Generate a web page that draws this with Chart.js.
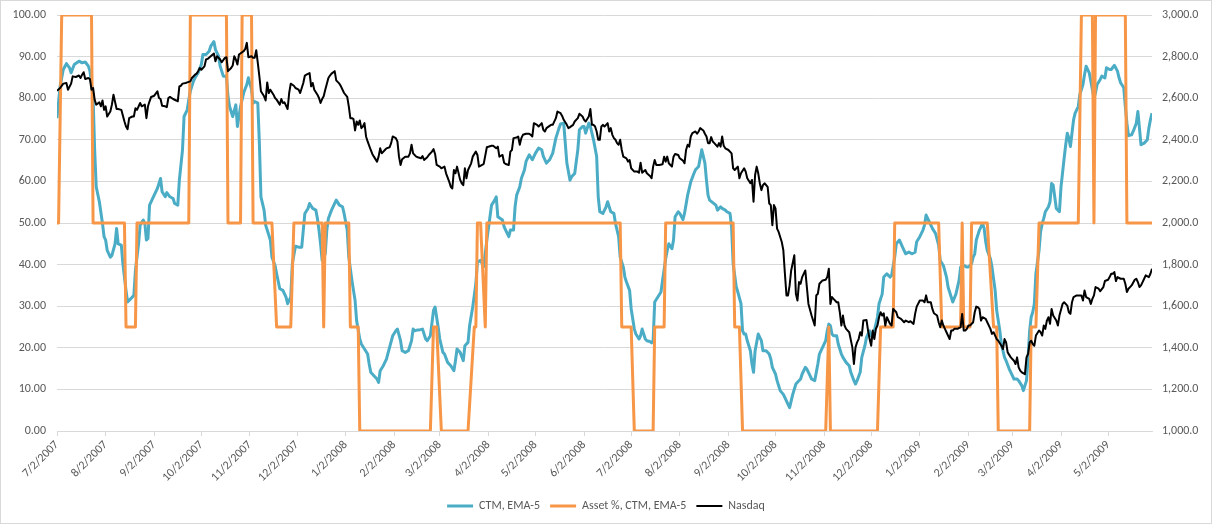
<!DOCTYPE html>
<html>
<head>
<meta charset="utf-8">
<script src="https://cdn.jsdelivr.net/npm/chart.js@4.4.1/dist/chart.umd.min.js"></script>
<style>
  body { margin: 0; background: #fff; }
  #wrap { width: 1210px; height: 522px; border: 1px solid #d9d9d9; }
</style>
</head>
<body>
<div id="wrap"><canvas id="chart" width="1210" height="522"></canvas></div>
<script>
// x values are calendar days counted from 7/2/2007
const startDate = '7/2/2007';
const lastDay = 698;

const tickLabels = ['7/2/2007', '8/2/2007', '9/2/2007', '10/2/2007', '11/2/2007', '12/2/2007',
  '1/2/2008', '2/2/2008', '3/2/2008', '4/2/2008', '5/2/2008', '6/2/2008', '7/2/2008', '8/2/2008',
  '9/2/2008', '10/2/2008', '11/2/2008', '12/2/2008', '1/2/2009', '2/2/2009', '3/2/2009', '4/2/2009',
  '5/2/2009'];

const seriesNames = ['CTM, EMA-5', 'Asset %, CTM, EMA-5', 'Nasdaq'];

const ctmDays = [
  0, 2, 4, 6, 8, 9, 11, 14, 16, 18,
  20, 21, 23, 24, 25, 27, 29, 30, 31, 32,
  34, 35, 37, 38, 39, 41, 42, 44, 45, 47,
  49, 50, 52, 53, 55, 56, 57, 58, 59, 61,
  64, 66, 67, 69, 70, 72, 74, 75, 77, 78,
  80, 81, 83, 84, 85, 87, 88, 90, 92, 93,
  95, 97, 98, 100, 101, 103, 104, 106, 108, 109,
  110, 112, 114, 115, 117, 119, 121, 122, 124, 125,
  126, 128, 129, 130, 132, 133, 135, 136, 137, 139,
  140, 142, 144, 146, 147, 149, 150, 152, 154, 156,
  157, 158, 160, 161, 163, 165, 166, 167, 168, 169,
  171, 172, 173, 175, 177, 178, 180, 182, 183, 185,
  186, 188, 190, 191, 193, 194, 196, 198, 199, 200,
  202, 204, 205, 206, 208, 210, 212, 214, 216, 217,
  219, 220, 222, 224, 226, 227, 228, 230, 231, 233,
  235, 236, 238, 240, 241, 243, 244, 246, 247, 249,
  251, 253, 254, 255, 257, 259, 260, 262, 263, 265,
  267, 268, 270, 272, 274, 276, 277, 279, 280, 281,
  284, 285, 286, 288, 289, 291, 292, 293, 295, 296,
  298, 299, 301, 303, 305, 307, 309, 310, 312, 314,
  316, 318, 320, 321, 323, 324, 325, 327, 328, 330,
  332, 333, 335, 336, 337, 339, 340, 342, 344, 345,
  346, 348, 350, 351, 353, 355, 356, 358, 359, 361,
  362, 363, 365, 366, 368, 369, 371, 372, 373, 375,
  376, 378, 379, 380, 381, 383, 385, 386, 388, 389,
  390, 392, 393, 394, 396, 397, 399, 400, 402, 403,
  404, 406, 407, 409, 410, 411, 412, 413, 414, 415,
  416, 418, 420, 421, 423, 424, 426, 427, 429, 430,
  431, 433, 434, 436, 437, 438, 439, 440, 442, 443,
  444, 445, 447, 448, 449, 450, 452, 454, 455, 456,
  458, 459, 461, 463, 464, 466, 467, 469, 471, 472,
  474, 475, 477, 478, 480, 481, 483, 485, 486, 488,
  490, 491, 492, 493, 494, 495, 497, 498, 500, 501,
  503, 505, 506, 508, 509, 510, 512, 513, 515, 516,
  518, 519, 521, 523, 524, 526, 527, 529, 531, 532,
  534, 535, 537, 539, 541, 543, 545, 547, 548, 550,
  552, 553, 554, 556, 558, 560, 562, 563, 565, 567,
  568, 570, 571, 573, 575, 576, 578, 580, 581, 583,
  584, 585, 586, 588, 590, 591, 592, 593, 595, 596,
  598, 599, 601, 602, 604, 605, 607, 609, 610, 612,
  613, 615, 616, 618, 619, 620, 621, 622, 623, 624,
  626, 627, 628, 629, 630, 632, 633, 634, 635, 636,
  637, 639, 640, 642, 643, 644, 645, 646, 647, 648,
  649, 651, 652, 654, 655, 656, 658, 659, 661, 662,
  663, 665, 666, 668, 669, 671, 672, 674, 676, 677,
  678, 680, 681, 682, 683, 685, 686, 688, 689, 690,
  691, 693, 694, 695, 696, 697, 698
];
const ctmValues = [
  75.2, 82.9, 86.9, 88.3, 87.3, 86.1, 88.1, 88.9, 88.5, 88.7,
  87.7, 86.5, 80.4, 67.6, 58.7, 55.1, 49.9, 46.7, 45.9, 43.4,
  41.8, 42.2, 45, 48.7, 45, 44.7, 40.2, 33.8, 31, 31.8,
  32.6, 38.6, 45, 49.5, 50.7, 49.9, 45.9, 46.3, 54.3, 55.9,
  58.3, 60.7, 57.5, 56.3, 57.3, 56.3, 55.9, 54.7, 54.3, 60.3,
  67.6, 75.6, 77.2, 79.6, 81.7, 84.1, 84.9, 86.1, 88.1, 90.5,
  90.5, 91.3, 92.5, 93.6, 91.7, 90.1, 87.7, 85.3, 85.3, 80.4,
  78, 75.6, 78.4, 73.2, 78, 81.3, 83.3, 84.9, 82.1, 78.8,
  79.2, 78.8, 69.2, 56.3, 53.1, 49.5, 47.1, 45.9, 41.8, 39.8,
  37.8, 34.2, 33.8, 32.2, 30.6, 32.2, 40.2, 44.4, 44.2, 44.2,
  48.3, 52.3, 53.5, 54.7, 53.5, 53.1, 51.1, 48.3, 45, 41,
  42.6, 48.3, 51.1, 53.1, 54.7, 55.5, 54.3, 53.9, 52.3, 48.3,
  41.8, 36.2, 31.4, 26.5, 22.1, 20.9, 19.7, 18.5, 16.1, 14.1,
  13.3, 12.5, 11.7, 14.5, 15.7, 17.3, 20.1, 22.9, 24.1, 24.5,
  21.7, 19.3, 18.9, 19.3, 21.7, 24.5, 24.1, 24.3, 24.3, 24.5,
  22.1, 21.7, 22.9, 29, 29.8, 24.9, 22.1, 18.9, 18.5, 16.5,
  15.7, 14.5, 16.9, 19.7, 18.9, 16.9, 20.5, 21.3, 25.3, 29.8,
  35.4, 40.6, 41, 39.5, 45.9, 51.5, 54.3, 55.5, 56.3, 51.5,
  50.7, 49.1, 48.3, 46.7, 48.3, 48.3, 53.9, 56.7, 58.7, 60.7,
  62.8, 64.8, 66.4, 65.2, 66.8, 68, 67.6, 66, 64.4, 65.2,
  66.8, 70.4, 72.8, 73.8, 74, 69.2, 64.4, 60.3, 61.1, 61.9,
  67.6, 72.4, 73.2, 73.2, 71.6, 74, 73.2, 70, 66, 56.3,
  52.7, 52.3, 53.9, 55.1, 52.7, 52.3, 49.9, 46.7, 41.8, 39.4,
  37, 35.8, 33.8, 29.4, 24.5, 23.3, 22.1, 22.9, 24.5, 22.1,
  21.7, 21.5, 21.2, 21.7, 31, 32.2, 33.4, 36.2, 41.4, 43.4,
  45, 43.8, 45.9, 51.5, 52.7, 52.3, 50.8, 52.3, 56.7, 58.3,
  59.9, 61.9, 62.8, 63.6, 65.6, 67.6, 66, 64.4, 60.3, 56.7,
  55.5, 54.9, 54.3, 53.1, 53.9, 53.5, 53.1, 52.7, 52.3, 49.1,
  40.2, 34.6, 33.4, 30.6, 24.1, 23.3, 23.3, 21.7, 19.3, 16.1,
  14.1, 19.3, 23.3, 22.5, 21.7, 19.3, 19.3, 18.5, 17.3, 15.3,
  13.7, 12.1, 9.7, 8.8, 8, 6.4, 5.6, 8.8, 11.3, 11.7,
  12.5, 13.7, 15.3, 14.9, 13.3, 12.5, 12.1, 16.1, 18.5, 20.1,
  21.7, 24.1, 25.7, 25.3, 23.3, 22.9, 22.9, 20.9, 18.5, 17.7,
  16.5, 15.7, 14.1, 12.1, 11.3, 12.1, 14.1, 17.7, 20.5, 22.5,
  24.1, 22.9, 24.1, 27.4, 30.6, 32.9, 37, 37.8, 37, 37.4,
  41.8, 45, 45.9, 44.2, 42.6, 43, 42.6, 43, 45.5, 46.7,
  48.3, 49.5, 51.9, 50.3, 48.7, 47.5, 44.7, 41, 39.8, 37,
  34.6, 32.2, 31, 32.9, 36.2, 39.4, 39.8, 39.4, 39.4, 40.2,
  41.8, 42.6, 45.9, 48.3, 49.9, 48.7, 45.5, 43.4, 41.4, 39.4,
  33.8, 29, 24.1, 20.9, 17.7, 16.9, 14.9, 13.3, 12.5, 12.5,
  12.1, 10.9, 9.7, 12.1, 17.7, 24.1, 27.4, 28.6, 30.6, 37.8,
  43.4, 47.9, 49.9, 51.1, 52.7, 53.9, 55.1, 59.5, 59.1, 56.3,
  53.5, 52.7, 58.7, 65.6, 68.8, 71.6, 70.4, 68.4, 71.6, 74.8,
  76.4, 78, 80.9, 83.3, 85.7, 87.7, 86.1, 84.1, 80, 81.3,
  83.3, 84.5, 85.3, 84.9, 87.3, 86.9, 86.9, 87.9, 86.5, 84.9,
  83.7, 82.5, 78, 74, 71, 71.2, 72, 74, 76.8, 72.8,
  68.8, 69.2, 69.6, 70, 72.8, 74.8, 76.4
];

const assetDays = [
  0, 1, 3, 22, 23, 43, 44, 50, 51, 84,
  85, 108, 109, 117, 118, 124, 125, 137, 140, 149,
  151, 169, 170, 171, 186, 187, 192, 193, 238, 240,
  242, 245, 262, 266, 267, 268, 270, 273, 274, 359,
  360, 366, 368, 380, 381, 387, 388, 431, 432, 435,
  437, 490, 492, 493, 523, 525, 533, 534, 562, 564,
  576, 577, 578, 582, 583, 593, 597, 599, 600, 620,
  621, 624, 626, 651, 653, 660, 661, 662, 681, 682,
  698
];
const assetValues = [
  50, 50, 100, 100, 50, 50, 25, 25, 50, 50,
  100, 100, 50, 50, 100, 100, 50, 50, 25, 25,
  50, 50, 25, 50, 50, 25, 25, 0, 0, 25,
  25, 0, 0, 25, 25, 50, 50, 25, 50, 50,
  25, 25, 0, 0, 25, 25, 50, 50, 25, 25,
  0, 0, 25, 0, 0, 25, 25, 50, 50, 25,
  25, 50, 25, 25, 50, 50, 25, 25, 0, 0,
  25, 25, 50, 50, 100, 100, 50, 100, 100, 50,
  50
];

const nasdaqDays = [
  0, 2, 4, 6, 7, 9, 10, 12, 14, 15,
  16, 17, 18, 20, 21, 22, 23, 24, 25, 27,
  28, 29, 30, 31, 32, 34, 35, 36, 38, 39,
  41, 43, 44, 45, 46, 48, 49, 50, 51, 53,
  54, 56, 57, 58, 59, 60, 62, 64, 65, 66,
  67, 69, 70, 71, 72, 74, 76, 77, 78, 79,
  80, 82, 83, 85, 86, 88, 89, 90, 91, 92,
  94, 95, 96, 98, 100, 101, 102, 104, 105, 107,
  108, 109, 111, 112, 113, 114, 115, 116, 118, 119,
  120, 121, 122, 124, 125, 126, 127, 128, 129, 130,
  132, 133, 134, 135, 136, 138, 139, 140, 142, 143,
  144, 145, 147, 148, 149, 151, 152, 154, 155, 157,
  158, 159, 161, 162, 163, 164, 166, 167, 168, 169,
  170, 171, 173, 174, 175, 177, 178, 180, 181, 183,
  185, 186, 187, 188, 189, 190, 191, 192, 193, 194,
  195, 196, 197, 198, 200, 201, 202, 204, 205, 206,
  207, 209, 210, 212, 213, 214, 216, 217, 218, 219,
  220, 222, 224, 225, 226, 227, 229, 230, 232, 233,
  234, 236, 237, 239, 240, 241, 242, 244, 245, 247,
  248, 250, 251, 252, 253, 254, 255, 257, 258, 259,
  260, 261, 262, 264, 265, 267, 268, 269, 271, 272,
  274, 275, 277, 278, 280, 281, 282, 284, 285, 286,
  288, 289, 290, 291, 293, 294, 295, 296, 297, 299,
  301, 302, 303, 304, 306, 307, 308, 309, 310, 311,
  312, 314, 315, 316, 318, 319, 321, 322, 323, 325,
  326, 327, 329, 330, 332, 333, 335, 336, 337, 339,
  340, 341, 342, 343, 344, 345, 346, 347, 348, 349,
  350, 351, 352, 353, 354, 355, 356, 357, 358, 359,
  360, 361, 363, 364, 365, 366, 368, 369, 370, 371,
  372, 373, 375, 376, 378, 379, 380, 381, 382, 384,
  386, 387, 388, 389, 390, 391, 392, 393, 394, 396,
  397, 399, 400, 401, 402, 403, 404, 405, 407, 408,
  409, 410, 412, 413, 414, 415, 416, 417, 418, 419,
  421, 422, 423, 424, 425, 426, 428, 430, 431, 432,
  433, 434, 435, 436, 438, 439, 440, 442, 443, 444,
  445, 446, 447, 448, 449, 450, 451, 453, 454, 455,
  456, 457, 458, 459, 460, 462, 463, 464, 465, 466,
  467, 468, 470, 471, 472, 473, 474, 475, 477, 478,
  479, 481, 482, 483, 484, 485, 486, 488, 490, 491,
  492, 493, 494, 495, 497, 498, 499, 500, 501, 502,
  503, 505, 507, 508, 509, 510, 511, 512, 513, 514,
  516, 517, 518, 519, 520, 521, 522, 523, 524, 525,
  526, 527, 528, 529, 531, 532, 533, 535, 536, 538,
  540, 541, 543, 544, 546, 547, 548, 550, 552, 553,
  554, 555, 557, 558, 559, 561, 562, 563, 564, 565,
  566, 567, 569, 570, 571, 572, 574, 576, 577, 578,
  579, 580, 581, 582, 584, 585, 586, 587, 588, 589,
  590, 592, 593, 595, 596, 597, 599, 600, 602, 603,
  604, 605, 606, 608, 610, 611, 612, 613, 614, 615,
  617, 618, 619, 620, 621, 622, 623, 624, 626, 627,
  628, 629, 630, 631, 632, 633, 634, 635, 637, 638,
  639, 641, 642, 644, 645, 646, 647, 648, 650, 652,
  653, 654, 655, 656, 658, 659, 660, 661, 662, 664,
  665, 667, 668, 670, 671, 672, 673, 674, 675, 676,
  678, 680, 681, 682, 683, 684, 685, 687, 688, 689,
  690, 691, 692, 693, 694, 696, 697, 698
];
const nasdaqValues = [
  2636, 2649, 2670, 2673, 2641, 2670, 2705, 2702, 2709, 2697,
  2713, 2725, 2692, 2697, 2692, 2641, 2649, 2593, 2569, 2580,
  2561, 2589, 2544, 2561, 2512, 2536, 2569, 2617, 2548, 2548,
  2544, 2488, 2464, 2451, 2504, 2512, 2512, 2552, 2544, 2577,
  2561, 2569, 2504, 2561, 2585, 2606, 2612, 2633, 2601, 2596,
  2564, 2561, 2557, 2601, 2606, 2596, 2589, 2585, 2657, 2660,
  2670, 2673, 2676, 2681, 2697, 2713, 2718, 2730, 2745, 2737,
  2753, 2786, 2789, 2802, 2815, 2778, 2802, 2786, 2773, 2794,
  2797, 2730, 2745, 2757, 2802, 2786, 2762, 2810, 2821, 2826,
  2837, 2866, 2797, 2802, 2794, 2794, 2831, 2770, 2705, 2633,
  2609, 2589, 2676, 2625, 2641, 2617, 2601, 2593, 2569, 2596,
  2577, 2580, 2548, 2625, 2670, 2660, 2649, 2641, 2625, 2673,
  2709, 2713, 2721, 2657, 2673, 2641, 2617, 2601, 2577, 2596,
  2609, 2641, 2697, 2709, 2718, 2730, 2686, 2670, 2657, 2625,
  2606, 2561, 2504, 2504, 2499, 2445, 2488, 2472, 2493, 2456,
  2464, 2480, 2416, 2392, 2351, 2332, 2319, 2295, 2319, 2359,
  2335, 2351, 2359, 2364, 2384, 2416, 2408, 2392, 2319, 2279,
  2306, 2319, 2319, 2335, 2376, 2335, 2319, 2316, 2311, 2322,
  2303, 2316, 2327, 2343, 2355, 2332, 2279, 2271, 2263, 2271,
  2239, 2199, 2174, 2166, 2255, 2239, 2271, 2207, 2191, 2182,
  2263, 2215, 2255, 2287, 2319, 2343, 2327, 2271, 2279, 2284,
  2364, 2367, 2371, 2371, 2359, 2367, 2319, 2327, 2290, 2284,
  2279, 2343, 2351, 2408, 2411, 2416, 2376, 2408, 2424, 2429,
  2429, 2424, 2416, 2480, 2472, 2464, 2472, 2480, 2448, 2440,
  2456, 2467, 2472, 2472, 2504, 2536, 2528, 2515, 2496, 2472,
  2456, 2461, 2472, 2488, 2504, 2525, 2512, 2496, 2488, 2512,
  2548, 2472, 2472, 2464, 2440, 2400, 2400, 2464, 2472, 2464,
  2472, 2480, 2440, 2456, 2424, 2408, 2400, 2384, 2376, 2400,
  2351, 2319, 2311, 2295, 2303, 2263, 2247, 2247, 2247, 2242,
  2290, 2242, 2255, 2239, 2226, 2215, 2271, 2303, 2279, 2279,
  2282, 2319, 2295, 2319, 2287, 2279, 2271, 2319, 2332, 2327,
  2311, 2300, 2287, 2351, 2376, 2367, 2416, 2432, 2440, 2429,
  2440, 2456, 2445, 2429, 2416, 2384, 2384, 2413, 2392, 2384,
  2367, 2384, 2367, 2416, 2371, 2359, 2351, 2335, 2263, 2255,
  2263, 2271, 2215, 2239, 2263, 2247, 2215, 2191, 2207, 2102,
  2231, 2271, 2239, 2191, 2158, 2182, 2191, 2174, 2094, 2086,
  1989, 2086, 2070, 1973, 1957, 1909, 1869, 1756, 1652, 1652,
  1700, 1772, 1845, 1660, 1627, 1716, 1708, 1740, 1772, 1692,
  1611, 1555, 1531, 1507, 1652, 1660, 1708, 1724, 1727, 1740,
  1780, 1611, 1644, 1635, 1619, 1619, 1571, 1507, 1555, 1507,
  1491, 1475, 1402, 1322, 1402, 1426, 1442, 1475, 1459, 1531,
  1534, 1483, 1442, 1410, 1483, 1442, 1491, 1507, 1547, 1571,
  1555, 1566, 1507, 1547, 1515, 1507, 1587, 1571, 1547, 1539,
  1523, 1531, 1523, 1528, 1515, 1563, 1598, 1627, 1627, 1619,
  1652, 1619, 1619, 1587, 1566, 1555, 1523, 1499, 1531, 1507,
  1491, 1475, 1442, 1483, 1483, 1491, 1491, 1499, 1563, 1483,
  1483, 1491, 1507, 1507, 1523, 1571, 1598, 1595, 1587, 1531,
  1547, 1539, 1523, 1491, 1467, 1475, 1442, 1434, 1410, 1394,
  1442, 1426, 1378, 1354, 1338, 1322, 1354, 1306, 1290, 1282,
  1273, 1354, 1370, 1426, 1434, 1418, 1410, 1459, 1483, 1475,
  1459, 1507, 1491, 1531, 1547, 1515, 1587, 1555, 1531, 1507,
  1555, 1611, 1619, 1603, 1571, 1563, 1619, 1644, 1652, 1652,
  1652, 1627, 1676, 1644, 1635, 1611, 1635, 1652, 1692, 1684,
  1672, 1692, 1721, 1727, 1740, 1756, 1756, 1764, 1721, 1740,
  1732, 1732, 1708, 1668, 1684, 1692, 1700, 1727, 1732, 1716,
  1692, 1700, 1716, 1732, 1748, 1740, 1756, 1780
];

function dayOf(label) {
  const [m, d, y] = label.split('/').map(Number);
  const [m0, d0, y0] = startDate.split('/').map(Number);
  return Math.round((Date.UTC(y, m - 1, d) - Date.UTC(y0, m0 - 1, d0)) / 86400000);
}
const tickDays = tickLabels.map(dayOf);

function zip(days, values) {
  return days.map((d, i) => ({x: d, y: values[i]}));
}

const font = {family: 'Calibri, Carlito, Lato, sans-serif', size: 12};
const textColor = '#595959';
const gridColor = '#d9d9d9';

// fix the side axes' widths and drop the extra room chart.js keeps above/below them
function fixSide(width) {
  return (scale) => {
    scale.width = width;
    scale.paddingTop = 7;
    scale.paddingBottom = 7;
  };
}

new Chart(document.getElementById('chart'), {
  type: 'line',
  data: {
    datasets: [{
      label: seriesNames[0],
      data: zip(ctmDays, ctmValues),
      borderColor: '#4bacc6',
      borderWidth: 3,
      yAxisID: 'y',
      order: 3
    }, {
      label: seriesNames[1],
      data: zip(assetDays, assetValues),
      borderColor: '#f79646',
      borderWidth: 3,
      yAxisID: 'y',
      order: 2
    }, {
      label: seriesNames[2],
      data: zip(nasdaqDays, nasdaqValues),
      borderColor: '#000000',
      borderWidth: 2,
      yAxisID: 'y1',
      order: 1
    }]
  },
  options: {
    responsive: false,
    animation: false,
    devicePixelRatio: 1,
    elements: {
      point: {radius: 0},
      line: {tension: 0, borderJoinStyle: 'round', fill: false}
    },
    layout: {padding: {top: 14, left: 0, right: 0, bottom: 1}},
    plugins: {
      tooltip: {enabled: false},
      legend: {
        position: 'bottom',
        labels: {
          usePointStyle: true,
          pointStyle: 'line',
          pointStyleWidth: 26,
          color: textColor,
          font: font,
          padding: 10,
          sort: (a, b) => a.datasetIndex - b.datasetIndex
        }
      }
    },
    scales: {
      x: {
        type: 'linear',
        min: 0,
        max: lastDay,
        afterBuildTicks: (scale) => { scale.ticks = tickDays.map(v => ({value: v})); },
        afterFit: (scale) => { scale.height = 59; },
        grid: {drawOnChartArea: false, drawTicks: true, tickLength: 5, color: gridColor},
        border: {display: true, color: gridColor},
        ticks: {
          autoSkip: false,
          minRotation: 45,
          maxRotation: 45,
          padding: 2,
          color: textColor,
          font: font,
          callback: (value, index) => tickLabels[index]
        }
      },
      y: {
        position: 'left',
        min: 0,
        max: 100,
        afterFit: fixSide(56),
        grid: {color: gridColor, drawTicks: false},
        border: {display: false},
        ticks: {
          stepSize: 10,
          padding: 11,
          color: textColor,
          font: font,
          callback: (v) => v.toFixed(2)
        }
      },
      y1: {
        position: 'right',
        min: 1000,
        max: 3000,
        afterFit: fixSide(59),
        grid: {display: false, drawTicks: false},
        border: {display: false},
        ticks: {
          stepSize: 200,
          padding: 10,
          color: textColor,
          font: font,
          callback: (v) => v.toLocaleString('en-US', {minimumFractionDigits: 1, maximumFractionDigits: 1})
        }
      }
    }
  }
});
</script>
</body>
</html>
